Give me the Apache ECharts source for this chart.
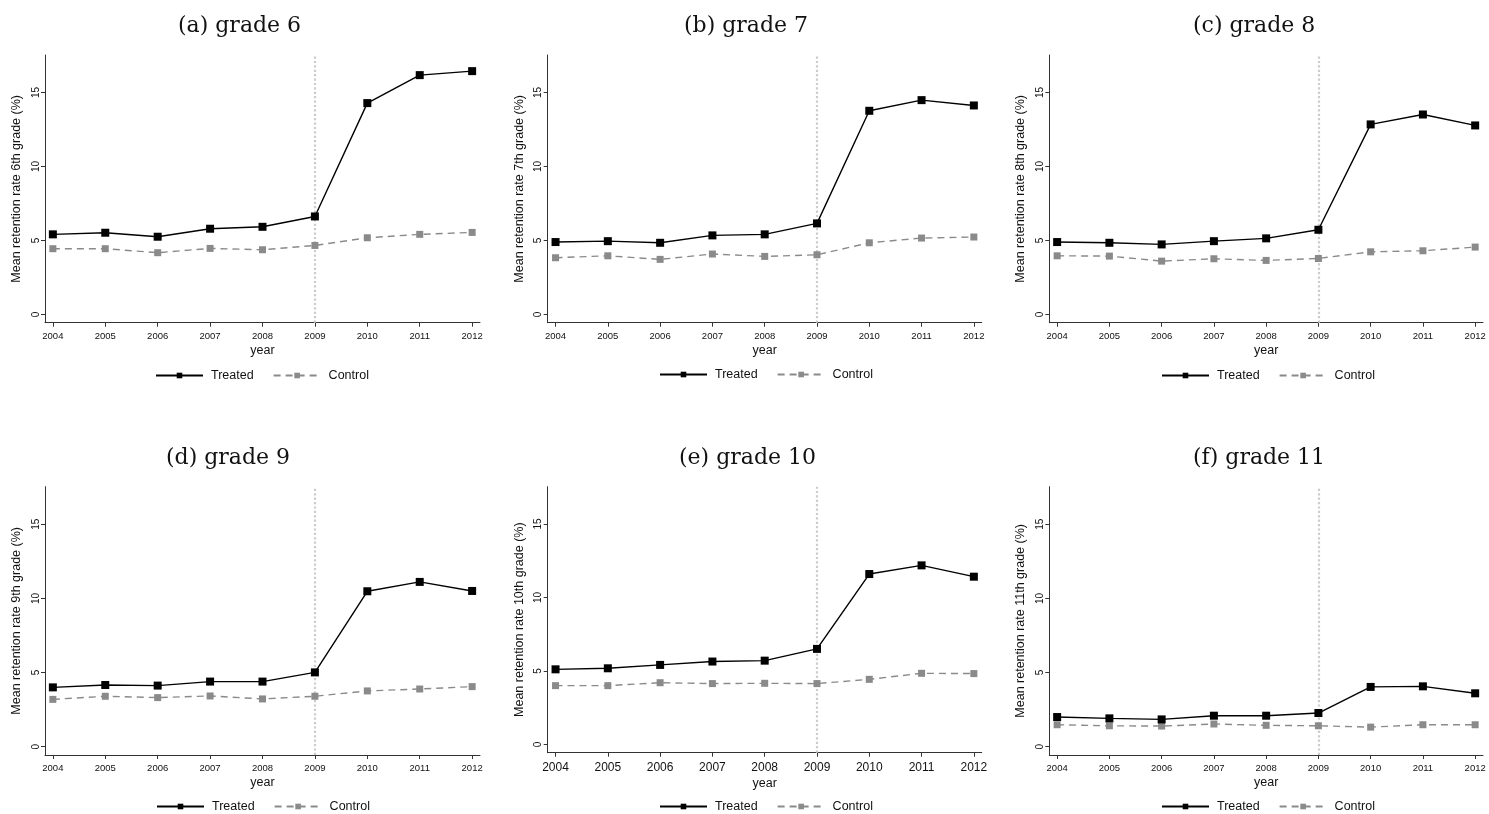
<!DOCTYPE html>
<html>
<head>
<meta charset="utf-8">
<script src="https://cdn.jsdelivr.net/npm/echarts@6/dist/echarts.min.js"></script>
<style>
html,body{margin:0;padding:0;background:#fff;}
#chart{width:1489px;height:814px;}
</style>
</head>
<body>
<div id="chart"></div>
<script>
// ---- data ----
const years = [2004, 2005, 2006, 2007, 2008, 2009, 2010, 2011, 2012];
const yTicks = [0, 5, 10, 15];
const policyYear = 2009;
const seriesNames = ['Treated', 'Control'];
const panelTitles = ['(a) grade 6', '(b) grade 7', '(c) grade 8', '(d) grade 9', '(e) grade 10', '(f) grade 11'];
const yAxisNames = [
  'Mean retention rate 6th grade (%)',
  'Mean retention rate 7th grade (%)',
  'Mean retention rate 8th grade (%)',
  'Mean retention rate 9th grade (%)',
  'Mean retention rate 10th grade (%)',
  'Mean retention rate 11th grade (%)'
];
const treatedG6  = [5.41, 5.52, 5.25, 5.79, 5.92, 6.62, 14.28, 16.17, 16.44];
const controlG6  = [4.44, 4.44, 4.17, 4.46, 4.37, 4.66, 5.18, 5.41, 5.54];
const treatedG7  = [4.89, 4.95, 4.84, 5.34, 5.41, 6.15, 13.76, 14.48, 14.12];
const controlG7  = [3.83, 3.96, 3.72, 4.08, 3.92, 4.03, 4.84, 5.16, 5.23];
const treatedG8  = [4.89, 4.84, 4.73, 4.95, 5.14, 5.72, 12.84, 13.51, 12.77];
const controlG8  = [3.96, 3.94, 3.60, 3.76, 3.65, 3.78, 4.23, 4.30, 4.55];
const treatedG9  = [4.00, 4.16, 4.12, 4.39, 4.39, 5.01, 10.48, 11.11, 10.50];
const controlG9  = [3.19, 3.40, 3.31, 3.42, 3.22, 3.40, 3.76, 3.89, 4.05];
const treatedG10 = [5.11, 5.18, 5.41, 5.64, 5.70, 6.50, 11.59, 12.18, 11.41];
const controlG10 = [4.00, 4.00, 4.20, 4.14, 4.16, 4.14, 4.43, 4.84, 4.82];
const treatedG11 = [2.00, 1.91, 1.84, 2.09, 2.09, 2.27, 4.03, 4.07, 3.60];
const controlG11 = [1.48, 1.41, 1.39, 1.53, 1.44, 1.41, 1.32, 1.48, 1.48];

const treatedAll = [treatedG6, treatedG7, treatedG8, treatedG9, treatedG10, treatedG11];
const controlAll = [controlG6, controlG7, controlG8, controlG9, controlG10, controlG11];

// ---- layout (pixels) ----
const panels = [
  {left: 45,     top: 55,    width: 435,   height: 267.7, titleLeft: 178,  titleTop: 15,  legLeft: 155,  legTop: 369, tickFont: 9.5},
  {left: 547.7,  top: 55,    width: 434,   height: 267.7, titleLeft: 684,  titleTop: 15,  legLeft: 659,  legTop: 368, tickFont: 9.5},
  {left: 1049.3, top: 55,    width: 433.7, height: 267.7, titleLeft: 1193, titleTop: 15,  legLeft: 1161, legTop: 369, tickFont: 9.5},
  {left: 45,     top: 486.7, width: 435,   height: 268.3, titleLeft: 166,  titleTop: 447, legLeft: 156,  legTop: 800, tickFont: 9.5},
  {left: 547.7,  top: 486.7, width: 434,   height: 266,   titleLeft: 679,  titleTop: 447, legLeft: 659,  legTop: 800, tickFont: 12},
  {left: 1049.3, top: 486.7, width: 433.7, height: 268.3, titleLeft: 1193, titleTop: 447, legLeft: 1161, legTop: 800, tickFont: 9.5}
];

const FONT = '"Liberation Sans", Arial, sans-serif';
const axisCol = '#333';

const option = {
  backgroundColor: '#fff',
  animation: false,
  title: [], grid: [], xAxis: [], yAxis: [], series: [], legend: []
};

panels.forEach((p, i) => {
  option.title.push({
    text: panelTitles[i], left: p.titleLeft, top: p.titleTop, padding: 0,
    textStyle: {fontFamily: '"DejaVu Serif", "Liberation Serif", serif', fontWeight: 'normal', fontSize: 22, color: '#111'}
  });
  option.grid.push({left: p.left, top: p.top, width: p.width, height: p.height, containLabel: false});
  option.xAxis.push({
    type: 'value', gridIndex: i, min: 2003.85, max: 2012.15,
    name: 'year', nameLocation: 'middle', nameGap: p.tickFont > 10 ? 24 : 21,
    nameTextStyle: {fontFamily: FONT, fontSize: 12.5, color: '#111'},
    splitLine: {show: false},
    axisLine: {show: true, onZero: false, lineStyle: {color: axisCol, width: 1}},
    axisTick: {show: true, length: 4, customValues: years, lineStyle: {color: axisCol}},
    axisLabel: {customValues: years, fontFamily: FONT, fontSize: p.tickFont, color: '#111', margin: 8.5, formatter: v => String(v)}
  });
  option.yAxis.push({
    type: 'value', gridIndex: i, min: -0.56, max: 17.53,
    name: yAxisNames[i], nameLocation: 'middle', nameGap: 22, nameRotate: 90,
    nameTextStyle: {fontFamily: FONT, fontSize: 12.5, color: '#111'},
    splitLine: {show: false},
    axisLine: {show: true, onZero: false, lineStyle: {color: axisCol, width: 1}},
    axisTick: {show: true, length: 4, customValues: yTicks, lineStyle: {color: axisCol}},
    axisLabel: {customValues: yTicks, rotate: 90, fontFamily: FONT, fontSize: 10, color: '#111', margin: 4}
  });
  option.series.push({
    name: seriesNames[0], type: 'line', xAxisIndex: i, yAxisIndex: i,
    data: years.map((y, k) => [y, treatedAll[i][k]]),
    symbol: 'rect', symbolSize: 8, showAllSymbol: true,
    lineStyle: {color: '#000', width: 1.4},
    itemStyle: {color: '#000'},
    z: 3,
    markLine: {
      silent: true, symbol: 'none', label: {show: false},
      lineStyle: {color: '#cccccc', type: 'dotted', width: 2.2},
      data: [{xAxis: policyYear}], z: 1
    }
  });
  option.series.push({
    name: seriesNames[1], type: 'line', xAxisIndex: i, yAxisIndex: i,
    data: years.map((y, k) => [y, controlAll[i][k]]),
    symbol: 'rect', symbolSize: 7, showAllSymbol: true,
    lineStyle: {color: '#8a8a8a', width: 1.4, type: [7, 5]},
    itemStyle: {color: '#8a8a8a'},
    z: 2
  });
  option.legend.push({
    data: seriesNames, left: p.legLeft, top: p.legTop, orient: 'horizontal',
    itemWidth: 47, itemHeight: 7, itemGap: 19, padding: 0,
    selectedMode: false,
    textStyle: {fontFamily: FONT, fontSize: 12.5, color: '#111', padding: [0, 0, 0, 3]}
  });
});

const chart = echarts.init(document.getElementById('chart'), null, {renderer: 'canvas'});
chart.setOption(option);
</script>
</body>
</html>
